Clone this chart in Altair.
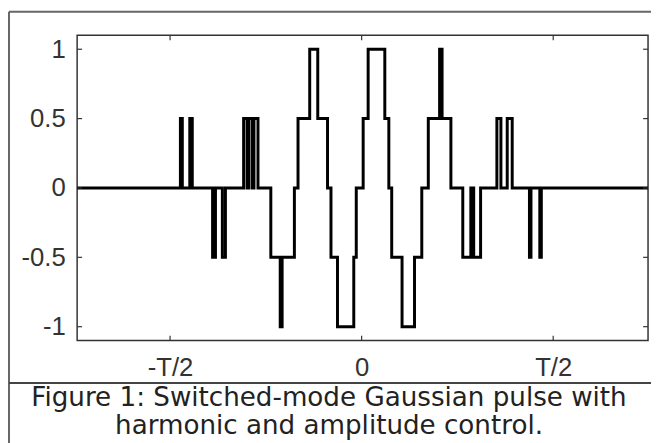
import altair as alt
import pandas as pd

# Step waveform: switching instants (in units of T/2) and the level held after each
T_EDGES = [-1.485, -0.946, -0.936, -0.897, -0.884, -0.778, -0.763, -0.727, -0.711,
           -0.616, -0.598, -0.590, -0.572, -0.562, -0.541, -0.474, -0.425, -0.415,
           -0.351, -0.332, -0.271, -0.229, -0.178, -0.160, -0.126, -0.041, -0.028,
           0.008, 0.034, 0.121, 0.142, 0.157, 0.211, 0.276, 0.314, 0.348, 0.407,
           0.420, 0.466, 0.528, 0.570, 0.585, 0.621, 0.706, 0.727, 0.760, 0.786,
           0.876, 0.884, 0.930, 0.938, 1.495]
LEVELS = [0, 0.5, 0, 0.5, 0, -0.5, 0, -0.5, 0, 0.5, 0, 0.5, 0, 0.5, 0, -0.5, -1, -0.5,
          0, 0.5, 1, 0.5, 0, -0.5, -1, -0.5, 0, 0.5, 1, 0.5, 0, -0.5, -1, -0.5, 0, 0.5,
          1, 0.5, 0, -0.5, 0, -0.5, 0, 0.5, 0, 0.5, 0, -0.5, 0, -0.5, 0, 0]

X_TICKS = [-1, 0, 1]
X_TICK_LABELS = ["-T/2", "0", "T/2"]
Y_TICKS = [-1, -0.5, 0, 0.5, 1]
Y_TICK_LABELS = ["-1", "-0.5", "0", "0.5", "1"]
X_DOMAIN = [-1.485, 1.495]
Y_DOMAIN = [-1.1, 1.1]

CAPTION_LINES = ["Figure 1: Switched-mode Gaussian pulse with",
                 "harmonic and amplitude control."]

W, H = 578, 309


def label_expr(values, labels):
    expr = "''"
    for v, l in reversed(list(zip(values, labels))):
        expr = f"(abs(datum.value - ({v})) < 1e-6 ? '{l}' : {expr})"
    return expr


LABEL_FONT = "Liberation Sans"
x_axis = alt.Axis(values=X_TICKS, labelExpr=label_expr(X_TICKS, X_TICK_LABELS),
                  ticks=False, domain=False, grid=False, title=None,
                  labelFont=LABEL_FONT, labelFontSize=26, labelColor="#333333",
                  labelPadding=14)
y_axis = alt.Axis(values=Y_TICKS, labelExpr=label_expr(Y_TICKS, Y_TICK_LABELS),
                  ticks=False, domain=False, grid=False, title=None,
                  labelFont=LABEL_FONT, labelFontSize=26, labelColor="#333333",
                  labelPadding=12)
x_scale = alt.Scale(domain=X_DOMAIN, nice=False, zero=False)
y_scale = alt.Scale(domain=Y_DOMAIN, nice=False, zero=False)

wave = pd.DataFrame({"t": T_EDGES, "v": LEVELS})
xt = pd.DataFrame({"t": X_TICKS})
yt = pd.DataFrame({"v": Y_TICKS})

line = alt.Chart(wave).mark_line(interpolate="step-after", color="black",
                                 strokeWidth=3).encode(
    x=alt.X("t:Q", scale=x_scale, axis=x_axis),
    y=alt.Y("v:Q", scale=y_scale, axis=y_axis),
)

tick_style = dict(color="#333333", strokeWidth=1.2)
xt_bottom = alt.Chart(xt).mark_rule(**tick_style).encode(
    x=alt.X("t:Q", scale=x_scale, axis=x_axis), y=alt.value(H), y2=alt.value(H - 5))
xt_top = alt.Chart(xt).mark_rule(**tick_style).encode(
    x=alt.X("t:Q", scale=x_scale, axis=x_axis), y=alt.value(0), y2=alt.value(5))
yt_left = alt.Chart(yt).mark_rule(**tick_style).encode(
    y=alt.Y("v:Q", scale=y_scale, axis=y_axis), x=alt.value(0), x2=alt.value(5))
yt_right = alt.Chart(yt).mark_rule(**tick_style).encode(
    y=alt.Y("v:Q", scale=y_scale, axis=y_axis), x=alt.value(W), x2=alt.value(W - 5))

one = alt.Data(values=[{"a": 1}])
border_top = alt.Chart(one).mark_rule(color="#666666", strokeWidth=2).encode(
    x=alt.value(-69), x2=alt.value(590), y=alt.value(-24))
border_left = alt.Chart(one).mark_rule(color="#666666", strokeWidth=2).encode(
    x=alt.value(-69), y=alt.value(-24), y2=alt.value(420))
separator = alt.Chart(one).mark_rule(color="#444444", strokeWidth=2).encode(
    x=alt.value(-69), x2=alt.value(590), y=alt.value(352))

caption = alt.Chart(alt.Data(values=[{"s": "\n".join(CAPTION_LINES)}])).mark_text(
    font="DejaVu Sans", fontSize=26.5, color="#222222", align="center",
    baseline="alphabetic", lineBreak="\n", lineHeight=29,
).encode(x=alt.value(255), y=alt.value(375), text="s:N")

chart = alt.layer(
    line, xt_bottom, xt_top, yt_left, yt_right,
    border_top, border_left, separator, caption
).properties(
    width=W, height=H,
    autosize=alt.AutoSizeParams(type="none"),
    padding={"left": 70, "top": 25, "right": 3, "bottom": 101},
    background="white",
).configure_view(stroke="#333333", strokeWidth=1.5)

chart.save("out.html", embed_options={"renderer": "svg", "actions": False})
